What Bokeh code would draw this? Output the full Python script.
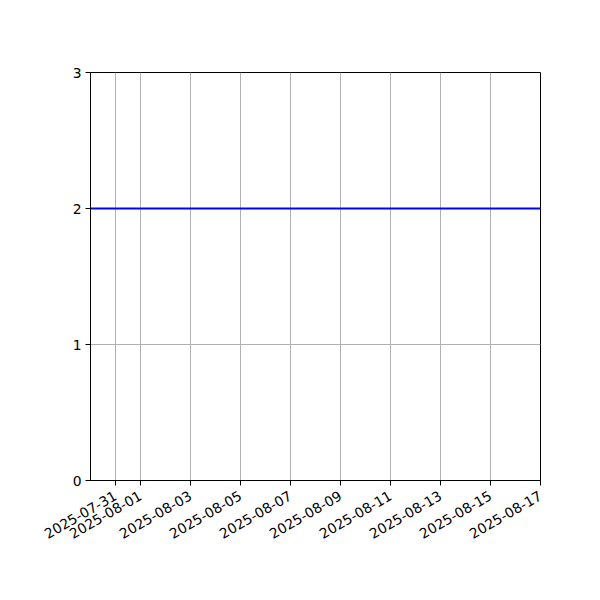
import math
from datetime import datetime
from bokeh.plotting import figure
from bokeh.models import FixedTicker, DatetimeTickFormatter, Range1d
from bokeh.embed import file_html
from bokeh.resources import INLINE

dates = ["2025-07-30", "2025-08-17"]
values = [2, 2]
x_ticks = ["2025-07-31", "2025-08-01", "2025-08-03", "2025-08-05", "2025-08-07",
           "2025-08-09", "2025-08-11", "2025-08-13", "2025-08-15", "2025-08-17"]
y_ticks = [0, 1, 2, 3]

def ms(s):
    return (datetime.strptime(s, "%Y-%m-%d") - datetime(1970, 1, 1)).total_seconds() * 1000.0

xs = [ms(d) for d in dates]

p = figure(width=600, height=600, output_backend="svg", toolbar_location=None,
           x_axis_type="datetime",
           x_range=Range1d(ms("2025-07-30"), ms("2025-08-17")),
           y_range=Range1d(0, 3),
           min_border_left=90, min_border_right=60, min_border_top=72, min_border_bottom=120)

p.line(xs, values, line_color="#0000ff", line_width=2)

p.xaxis.ticker = FixedTicker(ticks=[ms(t) for t in x_ticks])
p.xaxis.formatter = DatetimeTickFormatter(days="%Y-%m-%d", months="%Y-%m-%d", hours="%Y-%m-%d")
p.xaxis.major_label_orientation = math.pi / 6
p.yaxis.ticker = FixedTicker(ticks=y_ticks)

for ax in (p.xaxis, p.yaxis):
    ax.axis_line_color = "black"
    ax.major_tick_line_color = "black"
    ax.major_tick_out = 5
    ax.major_tick_in = 0
    ax.minor_tick_line_color = None
    ax.major_label_text_font = "DejaVu Sans"
    ax.major_label_text_font_size = "13.9px"
    ax.major_label_text_color = "black"
    ax.major_label_standoff = 4

p.xaxis.major_label_standoff = 9

p.xgrid.ticker = FixedTicker(ticks=[ms(t) for t in x_ticks])
p.ygrid.ticker = FixedTicker(ticks=y_ticks)
for g in (p.xgrid, p.ygrid):
    g.grid_line_color = "#b0b0b0"
    g.grid_line_width = 1
    g.grid_line_alpha = 1.0

p.outline_line_color = "black"
p.outline_line_width = 1
p.outline_line_alpha = 1.0
p.background_fill_color = "white"
p.border_fill_color = "white"

open("out.html", "w").write(file_html(p, INLINE))
